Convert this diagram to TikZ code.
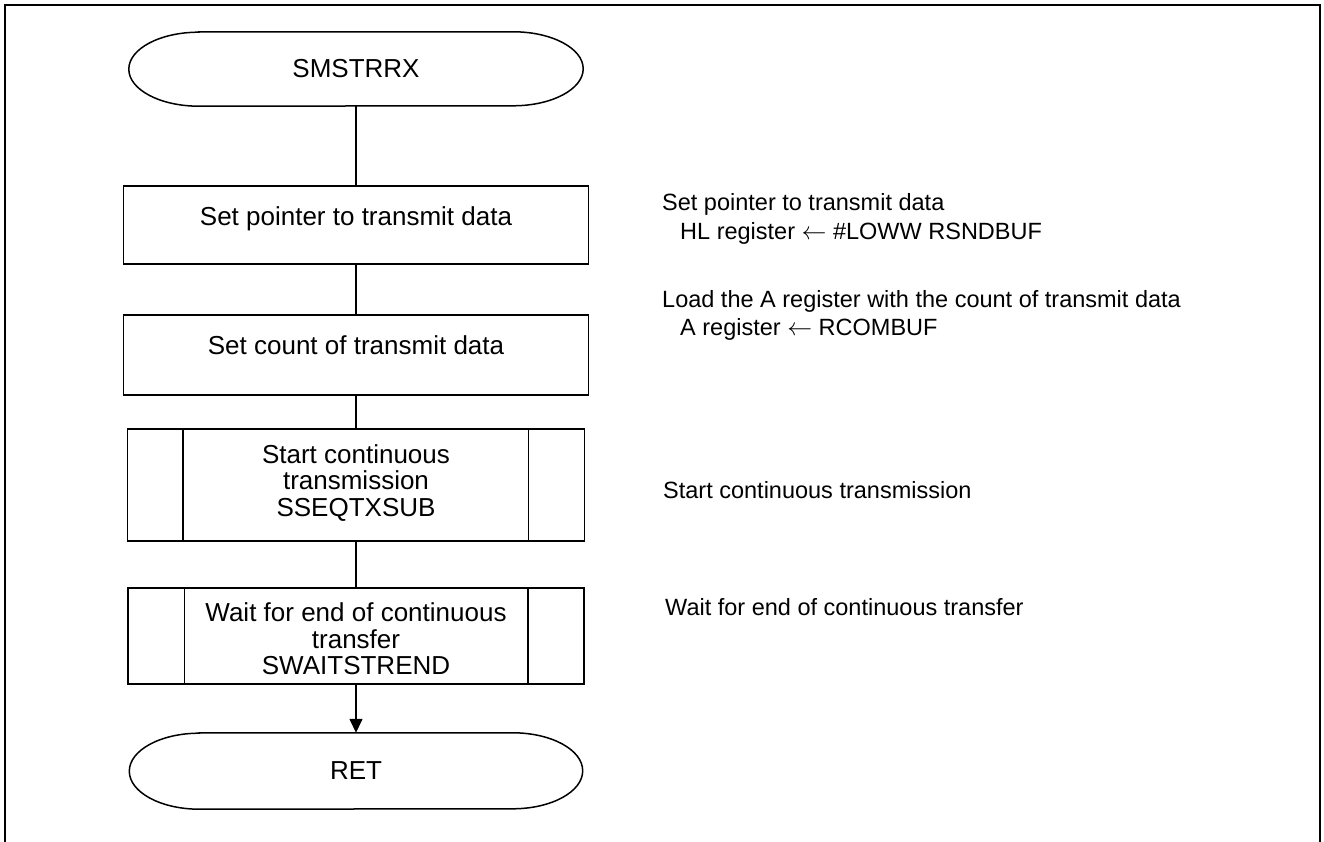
\documentclass[tikz,border=0pt]{standalone}
\usepackage{fontspec}
\setmainfont{Liberation Sans}
\usetikzlibrary{arrows.meta}
\begin{document}
\begin{tikzpicture}[x=1pt,y=1pt,
  line/.style={line width=1.5pt, draw=black},
  frameline/.style={line width=1.8pt, draw=black},
  procbox/.style={draw, line width=1.5pt, rectangle, inner sep=0pt},
  txt/.style={inner sep=0pt, align=center, font=\fontsize{26}{26.5}\selectfont},
  note/.style={inner sep=0pt, anchor=west, align=left, font=\fontsize{23.5}{27}\selectfont},
  term/.style={draw=none, rectangle, inner sep=0pt}
]
\useasboundingbox (0,0) rectangle (1324,842);
% frame
\draw[frameline] (5,-10) -- (5,837) -- (1320,837) -- (1320,-10);

% terminal SMSTRRX
\node[term, minimum width=454pt, minimum height=74pt] (t1) at (356,773) {};
\draw[line] ([xshift=70pt]t1.north west) -- ([xshift=-70pt]t1.north east)
  arc[start angle=90, end angle=-90, x radius=70pt, y radius=37pt]
  -- ([xshift=70pt]t1.south west)
  arc[start angle=270, end angle=90, x radius=70pt, y radius=37pt] -- cycle;
\node[txt] (t1text) at (t1.center) {SMSTRRX};

% box 1
\node[procbox, minimum width=465pt, minimum height=78pt] (b1) at (356,617) {};
\node[txt] (b1text) at (356,623) {Set pointer to transmit data};

% box 2
\node[procbox, minimum width=465pt, minimum height=80pt] (b2) at (356,487) {};
\node[txt] (b2text) at (356,497) {Set count of transmit data};

% box 3 (predefined process)
\node[procbox, minimum width=457pt, minimum height=112pt] (b3) at (356,357) {};
\draw[line] ([xshift=56pt]b3.north west) -- ([xshift=56pt]b3.south west);
\draw[line] ([xshift=-57pt]b3.north east) -- ([xshift=-57pt]b3.south east);
\node[txt] (b3text) at (356,359) {Start continuous\\transmission\\SSEQTXSUB};

% box 4 (predefined process)
\node[procbox, minimum width=456pt, minimum height=96pt] (b4) at (356,206) {};
\draw[line] ([xshift=57pt]b4.north west) -- ([xshift=57pt]b4.south west);
\draw[line] ([xshift=-57pt]b4.north east) -- ([xshift=-57pt]b4.south east);
\node[txt] (b4text) at (356,203) {Wait for end of continuous\\transfer\\SWAITSTREND};

% terminal RET
\node[term, minimum width=453pt, minimum height=76pt] (t2) at (356,71) {};
\draw[line] ([xshift=70pt]t2.north west) -- ([xshift=-70pt]t2.north east)
  arc[start angle=90, end angle=-90, x radius=70pt, y radius=38pt]
  -- ([xshift=70pt]t2.south west)
  arc[start angle=270, end angle=90, x radius=70pt, y radius=38pt] -- cycle;
\node[txt] (t2text) at (t2.center) {RET};

% connectors
\draw[line] (t1.south) -- (t1.south |- b1.north);
\draw[line] (b1.south) -- (b1.south |- b2.north);
\draw[line] (b2.south) -- (b2.south |- b3.north);
\draw[line] (b3.south) -- (b3.south |- b4.north);
\draw[line, -{Triangle[length=14pt, width=13pt]}] (b4.south) -- (b4.south |- t2.north);

% annotations
\node[note] (n1a) at (662,638) {Set pointer to transmit data};
\node[note] (n1b) at (680,609) {HL register $\leftarrow$ \#LOWW RSNDBUF};
\node[note] (n2a) at (662,541) {Load the A register with the count of transmit data};
\node[note] (n2b) at (680,513) {A register $\leftarrow$ RCOMBUF};
\node[note] (n3) at (663,352) {Start continuous transmission};
\node[note] (n4) at (665,235) {Wait for end of continuous transfer};
\end{tikzpicture}
\end{document}
